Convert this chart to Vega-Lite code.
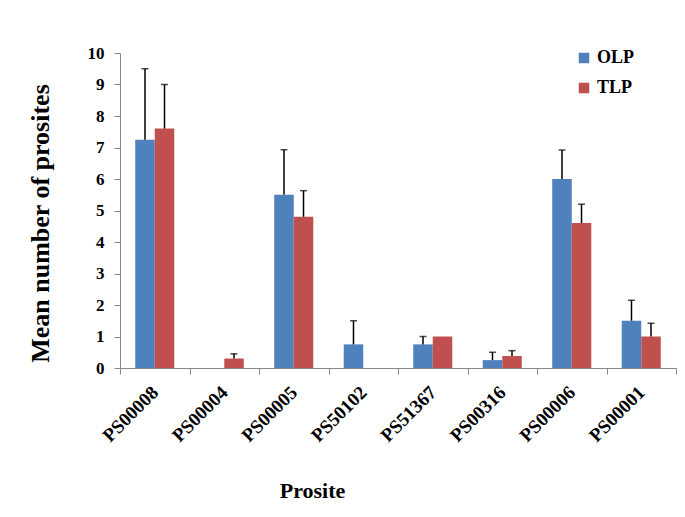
{
  "$schema": "https://vega.github.io/schema/vega-lite/v6.json",
  "autosize": "none",
  "width": 556,
  "height": 315,
  "padding": {"left": 120, "top": 53, "right": 9, "bottom": 149},
  "background": "white",
  "config": {
    "view": {"stroke": null},
    "font": "Liberation Serif",
    "axis": {"labelFont": "Liberation Serif", "titleFont": "Liberation Serif", "labelFontWeight": "bold", "titleFontWeight": "bold", "labelColor": "black", "titleColor": "black", "domainColor": "#888888", "tickColor": "#888888", "grid": false, "labelOverlap": false, "tickSize": 6},
    "axisX": {"labelFontSize": 19, "titleFontSize": 22},
    "axisY": {"labelFontSize": 17, "titleFontSize": 26}
  },
  "data": {
    "values": [
      {"site": "PS00008", "group": "OLP", "mean": 7.25, "upper": 9.5},
      {"site": "PS00008", "group": "TLP", "mean": 7.6, "upper": 9.0},
      {"site": "PS00004", "group": "OLP", "mean": 0, "upper": null},
      {"site": "PS00004", "group": "TLP", "mean": 0.3, "upper": 0.45},
      {"site": "PS00005", "group": "OLP", "mean": 5.5, "upper": 6.93},
      {"site": "PS00005", "group": "TLP", "mean": 4.8, "upper": 5.63},
      {"site": "PS50102", "group": "OLP", "mean": 0.75, "upper": 1.5},
      {"site": "PS50102", "group": "TLP", "mean": 0, "upper": null},
      {"site": "PS51367", "group": "OLP", "mean": 0.75, "upper": 1.0},
      {"site": "PS51367", "group": "TLP", "mean": 1.0, "upper": null},
      {"site": "PS00316", "group": "OLP", "mean": 0.25, "upper": 0.5},
      {"site": "PS00316", "group": "TLP", "mean": 0.38, "upper": 0.55},
      {"site": "PS00006", "group": "OLP", "mean": 6.0, "upper": 6.92},
      {"site": "PS00006", "group": "TLP", "mean": 4.6, "upper": 5.2},
      {"site": "PS00001", "group": "OLP", "mean": 1.5, "upper": 2.15},
      {"site": "PS00001", "group": "TLP", "mean": 1.0, "upper": 1.42}
    ]
  },
  "encoding": {
    "x": {
      "field": "site", "type": "nominal", "sort": null,
      "scale": {"paddingInner": 0, "paddingOuter": 0},
      "axis": {"title": "Prosite", "tickBand": "extent", "labelAngle": -45, "labelAlign": "right", "labelBaseline": "middle", "labelFontSize": 19, "labelPadding": 15, "titleFontSize": 22, "titleX": 192, "titleY": 129, "titleBaseline": "alphabetic", "titleAlign": "center"}
    },
    "xOffset": {"field": "group", "type": "nominal", "scale": {"paddingInner": 0, "paddingOuter": 0.78}},
    "y": {"field": "mean", "type": "quantitative", "scale": {"domain": [0, 10]},
      "axis": {"title": "Mean number of prosites", "values": [0,1,2,3,4,5,6,7,8,9,10], "tickCount": 11, "labelFontSize": 17, "labelPadding": 10, "titleFontSize": 26, "titleX": -72, "titleY": 170, "titleBaseline": "alphabetic", "titleAlign": "center"}}
  },
  "layer": [
    {
      "mark": {"type": "bar"},
      "encoding": {
        "color": {"field": "group", "type": "nominal", "scale": {"domain": ["OLP", "TLP"], "range": ["#4F81BD", "#C0504D"]},
          "legend": {"title": null, "orient": "none", "legendX": 455, "legendY": -4, "symbolType": "square", "symbolSize": 110, "symbolStrokeWidth": 0, "labelFontSize": 18, "labelFontWeight": "bold", "labelFont": "Liberation Serif", "labelColor": "black", "rowPadding": 12, "labelOffset": 4}}
      }
    },
    {
      "transform": [{"filter": "datum.upper != null"}],
      "mark": {"type": "rule", "color": "black", "strokeWidth": 1.5},
      "encoding": {"y2": {"field": "upper"}}
    },
    {
      "transform": [{"filter": "datum.upper != null"}],
      "mark": {"type": "tick", "color": "black", "thickness": 1.5, "size": 7},
      "encoding": {"y": {"field": "upper", "type": "quantitative"}}
    }
  ]
}
